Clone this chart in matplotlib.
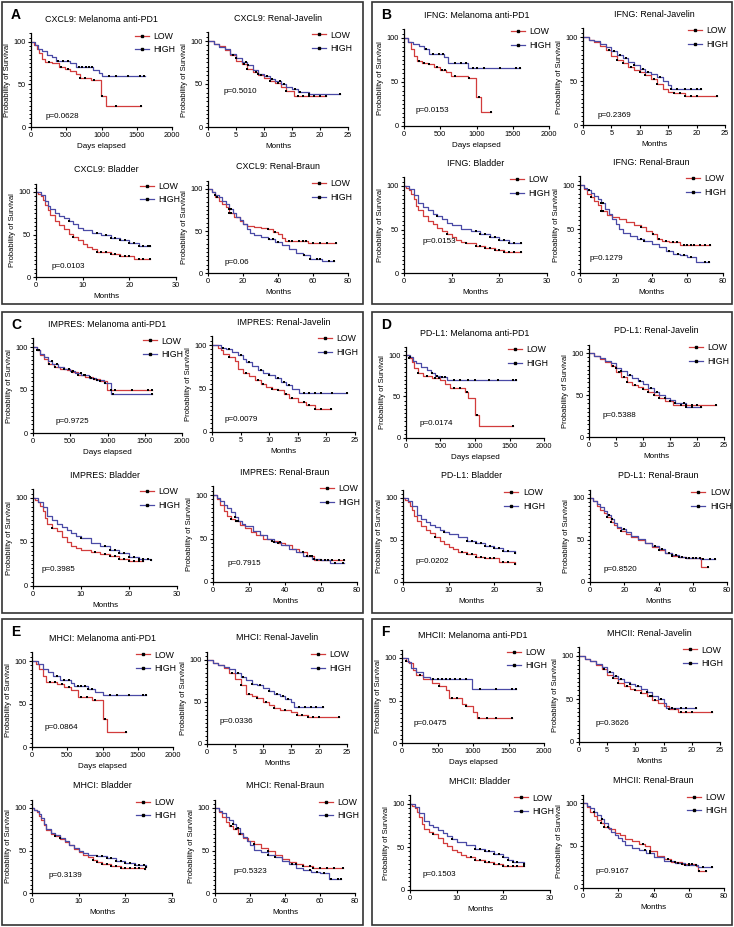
"""
Kaplan-Meier survival grid: six genes (A-F) x four cohorts.
LOW vs HIGH expression groups, censored patients shown as black ticks.
"""

import numpy as np
import matplotlib
matplotlib.use("Agg")
import matplotlib.pyplot as plt
from matplotlib.lines import Line2D
from matplotlib.patches import Rectangle
from matplotlib.ticker import MultipleLocator

plt.rcParams["font.family"] = ["Liberation Sans", "DejaVu Sans"]

# ----------------------------- DATA -----------------------------
GENES = ["CXCL9", "IFNG", "IMPRES", "PD-L1", "MHCI", "MHCII"]
KEYS = ["CXCL9", "IFNG", "IMPRES", "PDL1", "MHCI", "MHCII"]
LETTERS = ["A", "B", "C", "D", "E", "F"]
COHORTS = ["Melanoma anti-PD1", "Renal-Javelin", "Bladder", "Renal-Braun"]
COHORT_KEYS = ["MEL", "JAV", "BLA", "BRA"]
X_LABELS = ["Days elapsed", "Months", "Months", "Months"]
X_TICKS = [[0, 500, 1000, 1500, 2000], [0, 5, 10, 15, 20, 25],
           [0, 10, 20, 30], [0, 20, 40, 60, 80]]
P_VALUES = [
    ["p=0.0628", "p=0.5010", "p=0.0103", "p=0.06"],
    ["p=0.0153", "p=0.2369", "p=0.0153", "p=0.1279"],
    ["p=0.9725", "p=0.0079", "p=0.3985", "p=0.7915"],
    ["p=0.0174", "p=0.5388", "p=0.0202", "p=0.8520"],
    ["p=0.0864", "p=0.0336", "p=0.3139", "p=0.5323"],
    ["p=0.0475", "p=0.3626", "p=0.1503", "p=0.9167"],
]

# --- A: CXCL9
CXCL9_MEL_LOW_T = [0, 40, 80, 120, 160, 200, 300, 400, 480, 560, 640, 700, 850, 990, 1060, 1560]
CXCL9_MEL_LOW_S = [100, 97, 92, 87, 80, 77, 75, 71, 68, 66, 62, 58, 55, 37, 25, 25]
CXCL9_MEL_LOW_C = [250, 420, 520, 700, 770, 900, 1000, 1200, 1560]
CXCL9_MEL_HIGH_T = [0, 50, 100, 150, 220, 300, 350, 560, 640, 880, 960, 1000, 1620]
CXCL9_MEL_HIGH_S = [100, 96, 92, 89, 85, 82, 78, 75, 71, 67, 64, 60, 60]
CXCL9_MEL_HIGH_C = [380, 450, 520, 680, 720, 780, 820, 870, 1100, 1200, 1380, 1550, 1600]

CXCL9_JAV_LOW_T = [0, 1, 2, 3, 4, 5, 6, 7, 8, 9, 10, 11, 12, 13, 14, 15.3, 21]
CXCL9_JAV_LOW_S = [100, 97, 94, 90, 84, 77, 73, 68, 64, 61, 57, 54, 51, 46, 42, 36, 36]
CXCL9_JAV_LOW_C = [4.5, 6.5, 7, 8.5, 9.5, 11, 12.5, 14, 16, 17, 18, 19, 20, 21]
CXCL9_JAV_HIGH_T = [0, 1, 2, 3, 4, 5, 6, 7, 8, 9, 10, 11, 12, 13, 14, 15, 16, 18, 23.6]
CXCL9_JAV_HIGH_S = [100, 97, 93, 91, 85, 80, 76, 72, 66, 62, 59, 56, 54, 50, 47, 44, 41, 38, 38]
CXCL9_JAV_HIGH_C = [5, 6.8, 7.2, 9, 10.5, 11.5, 12.8, 13.5, 15.5, 16.5, 18, 23.6]

CXCL9_BLA_LOW_T = [0, 0.5, 1, 1.5, 2, 2.5, 3, 4, 5, 6, 7, 8, 9, 10, 11, 12, 13, 14, 16, 18, 21, 24.5]
CXCL9_BLA_LOW_S = [100, 98, 95, 91, 85, 79, 73, 66, 61, 56, 51, 47, 43, 39, 35, 33, 30, 29, 27, 25, 21, 21]
CXCL9_BLA_LOW_C = [8, 13, 14, 15, 16, 17, 18, 19, 20, 22, 23, 24.5]
CXCL9_BLA_HIGH_T = [0, 1, 2, 2.5, 3, 4, 5, 6, 7, 8, 9, 10, 12, 14, 16, 18, 20, 22, 24.5]
CXCL9_BLA_HIGH_S = [100, 96, 90, 84, 80, 75, 72, 69, 66, 62, 58, 55, 52, 49, 46, 43, 40, 37, 37]
CXCL9_BLA_HIGH_C = [7, 13, 15, 16, 17, 18, 19, 20, 21, 22, 23, 24, 24.5]

CXCL9_BRA_LOW_T = [0, 2, 4, 6, 8, 10, 12, 15, 18, 20, 22, 26, 30, 34, 37, 40, 42, 44, 57, 73]
CXCL9_BRA_LOW_S = [100, 96, 90, 86, 82, 78, 72, 67, 62, 58, 56, 55, 54, 52, 49, 46, 42, 38, 36, 36]
CXCL9_BRA_LOW_C = [5, 12, 13, 34, 38, 46, 48, 52, 54, 56, 60, 64, 68, 73]
CXCL9_BRA_HIGH_T = [0, 2, 4, 6, 8, 10, 12, 14, 16, 18, 20, 22, 24, 26, 30, 34, 38, 42, 46, 50, 54, 58, 65, 72]
CXCL9_BRA_HIGH_S = [100, 97, 93, 90, 86, 82, 76, 71, 67, 63, 58, 52, 48, 45, 43, 40, 37, 33, 28, 24, 21, 17, 14, 14]
CXCL9_BRA_HIGH_C = [4, 12, 13, 35, 37, 40, 55, 58, 62, 64, 69, 72]

# --- B: IFNG
IFNG_MEL_LOW_T = [0, 50, 100, 140, 180, 250, 330, 420, 500, 580, 650, 880, 990, 1060, 1200]
IFNG_MEL_LOW_S = [100, 95, 88, 80, 74, 72, 70, 67, 64, 61, 57, 54, 33, 16, 16]
IFNG_MEL_LOW_C = [200, 280, 350, 450, 520, 560, 700, 900, 1040, 1200]
IFNG_MEL_HIGH_T = [0, 60, 120, 200, 280, 340, 550, 600, 880, 1600]
IFNG_MEL_HIGH_S = [100, 96, 93, 91, 87, 82, 78, 72, 66, 66]
IFNG_MEL_HIGH_C = [300, 400, 480, 540, 700, 780, 850, 950, 1000, 1100, 1330, 1550, 1600]

IFNG_JAV_LOW_T = [0, 1, 2, 3, 4, 5, 6, 7, 8, 9, 10, 11, 12, 13, 14, 15, 16, 18, 23.6]
IFNG_JAV_LOW_S = [100, 97, 94, 90, 85, 78, 74, 70, 66, 63, 60, 57, 52, 47, 41, 38, 36, 33, 33]
IFNG_JAV_LOW_C = [4.5, 6, 7, 8.5, 10, 11, 12.5, 13, 16, 17, 18, 19, 20, 23.6]
IFNG_JAV_HIGH_T = [0, 1, 2, 3, 4, 5, 6, 7, 8, 9, 10, 11, 12, 13, 14, 15, 15.5, 20.8]
IFNG_JAV_HIGH_S = [100, 97, 95, 92, 89, 84, 80, 76, 72, 68, 64, 60, 58, 55, 50, 46, 41, 41]
IFNG_JAV_HIGH_C = [5.5, 6.5, 7.5, 9, 10.5, 11.5, 13.5, 15.5, 16.5, 18, 19, 20, 20.8]

IFNG_BLA_LOW_T = [0, 0.5, 1, 1.5, 2, 2.5, 3, 4, 5, 6, 7, 8, 9, 10, 11, 12, 13, 15, 17, 19, 21, 24.5]
IFNG_BLA_LOW_S = [100, 98, 95, 91, 85, 77, 72, 66, 60, 56, 52, 48, 45, 41, 38, 36, 34, 31, 29, 27, 24, 24]
IFNG_BLA_LOW_C = [9, 13, 15, 16, 17, 18, 19, 20, 21, 22, 23, 24.5]
IFNG_BLA_HIGH_T = [0, 1, 2, 3, 4, 5, 6, 7, 8, 9, 10, 12, 14, 16, 18, 20, 22, 24.5]
IFNG_BLA_HIGH_S = [100, 96, 90, 81, 76, 72, 68, 65, 62, 57, 55, 51, 48, 45, 41, 38, 35, 35]
IFNG_BLA_HIGH_C = [7, 15, 16, 17, 18, 19, 20, 21, 22, 23, 24.5]

IFNG_BRA_LOW_T = [0, 2, 4, 6, 8, 10, 12, 15, 18, 22, 26, 30, 34, 37, 40, 43, 46, 50, 56, 73]
IFNG_BRA_LOW_S = [100, 96, 90, 86, 82, 77, 71, 66, 64, 61, 58, 55, 52, 48, 44, 39, 36, 35, 32, 32]
IFNG_BRA_LOW_C = [6, 12, 13, 34, 41, 44, 48, 52, 54, 58, 60, 62, 64, 67, 70, 73]
IFNG_BRA_HIGH_T = [0, 2, 4, 6, 8, 10, 12, 14, 16, 18, 20, 22, 24, 28, 32, 36, 40, 44, 48, 52, 56, 60, 65, 72]
IFNG_BRA_HIGH_S = [100, 97, 94, 91, 88, 84, 79, 73, 67, 61, 56, 50, 45, 42, 39, 36, 33, 29, 25, 22, 20, 18, 13, 13]
IFNG_BRA_HIGH_C = [5, 12, 13, 34, 36, 50, 55, 58, 62, 70, 72]

# --- C: IMPRES
IMPRES_MEL_LOW_T = [0, 60, 100, 150, 200, 280, 360, 450, 520, 600, 700, 800, 900, 990, 1600]
IMPRES_MEL_LOW_S = [100, 96, 91, 86, 80, 77, 75, 73, 71, 68, 65, 63, 61, 50, 50]
IMPRES_MEL_LOW_C = [60, 220, 300, 420, 520, 600, 680, 760, 820, 900, 1050, 1100, 1330, 1550, 1600]
IMPRES_MEL_HIGH_T = [0, 50, 100, 150, 200, 260, 340, 420, 500, 560, 650, 750, 850, 950, 1050, 1600]
IMPRES_MEL_HIGH_S = [100, 96, 92, 88, 84, 80, 77, 75, 72, 70, 67, 64, 62, 58, 45, 45]
IMPRES_MEL_HIGH_C = [80, 250, 320, 480, 540, 640, 700, 780, 860, 960, 1070, 1600]

IMPRES_JAV_LOW_T = [0, 1, 1.5, 2, 3, 4, 4.5, 5.5, 6.5, 7.5, 8.5, 9.5, 10.5, 11.5, 12.5, 13.5, 15, 16.5, 18, 20.8]
IMPRES_JAV_LOW_S = [100, 97, 94, 90, 86, 82, 72, 68, 64, 60, 55, 52, 50, 48, 44, 39, 35, 31, 27, 27]
IMPRES_JAV_LOW_C = [3, 6, 8, 9, 10.5, 11.5, 13, 14, 16, 17, 18, 19, 20.8]
IMPRES_JAV_HIGH_T = [0, 1.5, 2.5, 3.5, 4.5, 5.5, 6, 7, 8, 9, 10, 11, 12, 13, 14, 15.2, 23.6]
IMPRES_JAV_HIGH_S = [100, 97, 95, 92, 88, 84, 80, 76, 71, 68, 66, 62, 58, 54, 50, 45, 45]
IMPRES_JAV_HIGH_C = [2, 3, 5, 6.5, 8.5, 10, 11.5, 12.5, 13.5, 16, 17, 18, 19, 21, 23.6]

IMPRES_BLA_LOW_T = [0, 0.5, 1, 1.5, 2, 2.5, 3, 4, 5, 6, 7, 8, 9, 10, 12, 14, 16, 18, 20, 23]
IMPRES_BLA_LOW_S = [100, 98, 95, 91, 85, 77, 71, 66, 62, 56, 50, 46, 43, 41, 39, 36, 34, 31, 28, 28]
IMPRES_BLA_LOW_C = [4, 13, 15, 16, 17, 18, 19, 20, 21, 22, 23]
IMPRES_BLA_HIGH_T = [0, 1, 2, 3, 4, 5, 6, 7, 8, 9, 10, 12, 14, 16, 18, 20, 22, 24.5]
IMPRES_BLA_HIGH_S = [100, 96, 90, 80, 75, 71, 67, 64, 60, 57, 54, 49, 45, 41, 37, 33, 31, 30]
IMPRES_BLA_HIGH_C = [10, 15, 16, 17, 18, 19, 20, 21, 22, 23, 24, 24.5]

IMPRES_BRA_LOW_T = [0, 2, 4, 6, 8, 10, 12, 15, 18, 21, 24, 28, 32, 36, 40, 44, 48, 52, 56, 73]
IMPRES_BRA_LOW_S = [100, 95, 88, 82, 76, 72, 70, 66, 62, 58, 54, 50, 47, 45, 42, 38, 34, 30, 25, 25]
IMPRES_BRA_LOW_C = [10, 13, 33, 36, 50, 52, 55, 58, 60, 62, 66, 70, 73]
IMPRES_BRA_HIGH_T = [0, 2, 4, 6, 8, 10, 12, 14, 16, 18, 22, 26, 30, 34, 38, 42, 46, 50, 55, 60, 65, 73]
IMPRES_BRA_HIGH_S = [100, 97, 93, 89, 85, 80, 75, 70, 67, 64, 59, 54, 50, 46, 42, 38, 34, 30, 27, 25, 22, 22]
IMPRES_BRA_HIGH_C = [12, 14, 34, 37, 52, 54, 56, 60, 64, 68, 72]

# --- D: PD-L1
PDL1_MEL_LOW_T = [0, 40, 80, 120, 180, 250, 380, 500, 560, 640, 850, 900, 1000, 1060, 1550]
PDL1_MEL_LOW_S = [100, 96, 91, 84, 78, 75, 72, 70, 65, 60, 56, 48, 28, 14, 14]
PDL1_MEL_LOW_C = [50, 180, 300, 420, 480, 700, 780, 880, 1030, 1550]
PDL1_MEL_HIGH_T = [0, 60, 100, 150, 220, 300, 360, 420, 500, 600, 1600]
PDL1_MEL_HIGH_S = [100, 97, 93, 90, 86, 82, 78, 75, 73, 70, 70]
PDL1_MEL_HIGH_C = [60, 380, 450, 520, 560, 700, 780, 900, 1000, 1200, 1330, 1550, 1600]

PDL1_JAV_LOW_T = [0, 1, 2, 3, 4, 5, 6, 7, 8, 9, 10, 11, 12, 13, 14, 15.5, 23.6]
PDL1_JAV_LOW_S = [100, 97, 93, 89, 84, 77, 72, 66, 62, 60, 57, 53, 50, 46, 43, 38, 38]
PDL1_JAV_LOW_C = [4.5, 5.5, 6.5, 7, 8.5, 10, 11, 12, 13, 15, 17, 18, 19, 20, 23.6]
PDL1_JAV_HIGH_T = [0, 1, 2, 3, 4, 5, 6, 7, 8, 9, 10, 11, 12, 13, 14, 15, 16, 18, 20.8]
PDL1_JAV_HIGH_S = [100, 97, 94, 91, 88, 82, 78, 74, 70, 67, 63, 58, 53, 50, 47, 44, 40, 36, 36]
PDL1_JAV_HIGH_C = [5, 6, 7.5, 9.5, 11.5, 12.5, 14, 16, 17.5, 18, 19, 20.8]

PDL1_BLA_LOW_T = [0, 0.5, 1, 1.5, 2, 2.5, 3, 4, 5, 6, 7, 8, 9, 10, 11, 12, 14, 16, 18, 21, 24.5]
PDL1_BLA_LOW_S = [100, 98, 95, 91, 86, 79, 73, 67, 62, 58, 53, 49, 45, 42, 39, 36, 33, 30, 28, 24, 22]
PDL1_BLA_LOW_C = [7, 13, 14, 15, 16, 17, 18, 19, 20, 22, 23, 24.5]
PDL1_BLA_HIGH_T = [0, 1, 2, 3, 4, 5, 6, 7, 8, 9, 10, 12, 14, 16, 18, 20, 22, 24.5]
PDL1_BLA_HIGH_S = [100, 96, 90, 80, 75, 71, 68, 65, 62, 59, 57, 53, 49, 46, 43, 40, 37, 35]
PDL1_BLA_HIGH_C = [9, 14, 15, 16, 17, 18, 19, 20, 21, 22, 23, 24.5]

PDL1_BRA_LOW_T = [0, 2, 4, 6, 8, 10, 12, 14, 16, 18, 21, 24, 28, 32, 36, 40, 44, 48, 52, 56, 65, 69]
PDL1_BRA_LOW_S = [100, 96, 91, 86, 82, 77, 72, 68, 64, 61, 57, 54, 50, 46, 42, 38, 34, 31, 30, 28, 18, 18]
PDL1_BRA_LOW_C = [10, 12, 18, 40, 46, 48, 52, 56, 60, 62, 64, 69]
PDL1_BRA_HIGH_T = [0, 2, 4, 6, 8, 10, 12, 14, 16, 18, 21, 24, 28, 32, 36, 40, 44, 48, 52, 56, 64, 73]
PDL1_BRA_HIGH_S = [100, 97, 93, 89, 85, 80, 75, 70, 66, 63, 59, 55, 51, 47, 43, 39, 35, 32, 30, 29, 27, 27]
PDL1_BRA_HIGH_C = [11, 13, 20, 38, 42, 48, 50, 54, 58, 66, 70, 73]

# --- E: MHCI
MHCI_MEL_LOW_T = [0, 50, 100, 150, 200, 350, 450, 550, 650, 850, 1000, 1060, 1330]
MHCI_MEL_LOW_S = [100, 96, 91, 82, 76, 73, 70, 66, 58, 55, 33, 17, 17]
MHCI_MEL_LOW_C = [250, 330, 420, 520, 700, 780, 900, 1040, 1330]
MHCI_MEL_HIGH_T = [0, 80, 150, 220, 300, 400, 550, 600, 800, 900, 1000, 1620]
MHCI_MEL_HIGH_S = [100, 96, 91, 87, 83, 78, 75, 71, 68, 64, 60, 60]
MHCI_MEL_HIGH_C = [350, 450, 520, 650, 700, 750, 800, 850, 1100, 1200, 1380, 1580, 1620]

MHCI_JAV_LOW_T = [0, 1, 2, 3, 4, 5, 6, 7, 8, 9, 10, 11, 12, 13, 15, 16, 18, 23.6]
MHCI_JAV_LOW_S = [100, 97, 94, 90, 84, 77, 70, 60, 57, 55, 50, 47, 43, 40, 38, 34, 32, 32]
MHCI_JAV_LOW_C = [4.5, 6, 7.5, 9, 10.5, 12, 14, 16, 17, 18, 19, 20, 23.6]
MHCI_JAV_HIGH_T = [0, 1, 2, 3, 4, 5, 6, 7, 8, 9, 10, 11, 12, 13, 14, 15, 15.5, 20.8]
MHCI_JAV_HIGH_S = [100, 97, 94, 92, 89, 84, 80, 76, 72, 70, 67, 63, 60, 57, 54, 50, 44, 44]
MHCI_JAV_HIGH_C = [5.5, 6.5, 8, 9.5, 11, 12.5, 13.5, 14.5, 16.5, 17.5, 18.5, 19.5, 20.8]

MHCI_BLA_LOW_T = [0, 0.5, 1, 1.5, 2, 2.5, 3, 4, 5, 6, 7, 8, 9, 10, 11, 12, 13, 14, 15, 17, 19, 24.2]
MHCI_BLA_LOW_S = [100, 98, 95, 91, 86, 80, 74, 70, 67, 64, 60, 56, 52, 48, 45, 42, 39, 37, 34, 32, 29, 28]
MHCI_BLA_LOW_C = [5, 13, 14, 15, 16, 17, 18, 19, 20, 21, 22, 23, 24.2]
MHCI_BLA_HIGH_T = [0, 0.5, 1, 1.5, 2, 2.5, 3, 4, 5, 6, 7, 8, 9, 10, 11, 12, 14, 16, 18, 20, 22, 24.5]
MHCI_BLA_HIGH_S = [100, 98, 96, 93, 88, 81, 75, 71, 68, 65, 61, 57, 53, 50, 47, 45, 43, 41, 38, 35, 33, 31]
MHCI_BLA_HIGH_C = [6, 14, 15, 16, 17, 18, 19, 20, 21, 22, 23, 24, 24.5]

MHCI_BRA_LOW_T = [0, 2, 4, 6, 8, 10, 13, 16, 19, 22, 26, 30, 34, 38, 42, 46, 50, 56, 73]
MHCI_BRA_LOW_S = [100, 95, 89, 84, 79, 75, 70, 65, 61, 58, 53, 49, 45, 40, 36, 34, 32, 30, 30]
MHCI_BRA_LOW_C = [9, 12, 14, 22, 30, 46, 50, 54, 56, 60, 64, 68, 73]
MHCI_BRA_HIGH_T = [0, 2, 4, 6, 8, 10, 12, 14, 16, 18, 20, 22, 26, 30, 34, 38, 42, 46, 50, 55, 60, 65, 72]
MHCI_BRA_HIGH_S = [100, 97, 94, 90, 86, 81, 76, 71, 66, 61, 57, 51, 48, 45, 42, 38, 34, 30, 27, 25, 23, 17, 17]
MHCI_BRA_HIGH_C = [10, 13, 30, 34, 44, 54, 58, 62, 66, 70, 72]

# --- F: MHCII
MHCII_MEL_LOW_T = [0, 60, 100, 150, 200, 300, 420, 520, 620, 660, 850, 900, 1000, 1060, 1550]
MHCII_MEL_LOW_S = [100, 97, 94, 86, 80, 75, 71, 67, 62, 53, 46, 44, 37, 29, 29]
MHCII_MEL_LOW_C = [60, 250, 520, 700, 780, 900, 1080, 1200, 1330, 1550]
MHCII_MEL_HIGH_T = [0, 80, 120, 200, 300, 400, 980, 1600]
MHCII_MEL_HIGH_S = [100, 95, 88, 84, 78, 75, 64, 64]
MHCII_MEL_HIGH_C = [430, 500, 560, 620, 680, 750, 820, 900, 1100, 1330, 1550, 1600]

MHCII_JAV_LOW_T = [0, 1, 2, 3, 4, 5, 6, 7, 8, 9, 10, 11, 12, 13, 14, 15, 16, 17.5, 23.6]
MHCII_JAV_LOW_S = [100, 97, 94, 90, 85, 78, 74, 69, 65, 62, 60, 57, 53, 49, 45, 42, 38, 35, 35]
MHCII_JAV_LOW_C = [4.5, 6, 7, 8.5, 10, 11, 12.5, 13.5, 16, 17, 18, 19, 20, 23.6]
MHCII_JAV_HIGH_T = [0, 1, 2, 3, 4, 5, 6, 7, 8, 9, 10, 11, 12, 13, 14, 15, 15.5, 20.8]
MHCII_JAV_HIGH_S = [100, 97, 94, 91, 87, 81, 77, 73, 70, 67, 65, 62, 58, 54, 50, 45, 40, 40]
MHCII_JAV_HIGH_C = [5.5, 6.5, 7.5, 9, 10.5, 12, 13, 14.5, 16.5, 18, 19, 20.8]

MHCII_BLA_LOW_T = [0, 0.5, 1, 1.5, 2, 2.5, 3, 4, 5, 6, 7, 8, 9, 10, 11, 12, 14, 16, 18, 20, 24.5]
MHCII_BLA_LOW_S = [100, 98, 95, 91, 85, 77, 71, 67, 65, 60, 55, 51, 47, 44, 41, 38, 35, 33, 30, 28, 28]
MHCII_BLA_LOW_C = [5, 13, 14, 15, 16, 17, 18, 19, 20, 21, 22, 23, 24.5]
MHCII_BLA_HIGH_T = [0, 1, 2, 3, 4, 5, 6, 7, 8, 9, 10, 12, 14, 16, 18, 20, 21, 22, 24.5]
MHCII_BLA_HIGH_S = [100, 96, 90, 80, 76, 73, 70, 66, 63, 59, 56, 52, 48, 45, 42, 38, 35, 32, 30]
MHCII_BLA_HIGH_C = [9, 14, 15, 16, 17, 18, 19, 20, 21, 22, 23, 24.5]

MHCII_BRA_LOW_T = [0, 2, 4, 6, 8, 10, 12, 15, 18, 21, 24, 28, 32, 35, 38, 42, 46, 50, 56, 64, 65, 70]
MHCII_BRA_LOW_S = [100, 95, 90, 85, 80, 76, 72, 69, 65, 62, 58, 55, 52, 49, 44, 38, 34, 31, 28, 26, 20, 20]
MHCII_BRA_LOW_C = [10, 12, 14, 34, 38, 48, 52, 56, 60, 62, 66, 70]
MHCII_BRA_HIGH_T = [0, 2, 4, 6, 8, 10, 12, 14, 16, 18, 20, 22, 24, 28, 32, 36, 40, 46, 52, 58, 65, 73]
MHCII_BRA_HIGH_S = [100, 97, 94, 90, 86, 81, 76, 71, 66, 62, 59, 55, 51, 47, 45, 41, 36, 32, 29, 27, 25, 25]
MHCII_BRA_HIGH_C = [6, 11, 35, 38, 50, 54, 58, 60, 64, 68, 73]

# ----------------------------- LAYOUT -----------------------------
W, H = 734, 927
RED = "#d23c3c"
BLUE = "#4a4aa6"

# axes boxes in pixels: (x at 0, x at last tick, y at 0, y at 100)
AX_PX = [
    [(31, 172, 127, 42), (208, 348, 127, 41), (36, 176, 277, 192), (208, 348, 273, 189)],
    [(404, 549, 126, 38), (583, 725, 125, 37), (404, 547, 273, 186), (580, 723, 273, 185)],
    [(33, 182, 433, 347), (212, 355, 432, 345), (33, 177, 586, 498), (213, 357, 582, 495)],
    [(406, 544, 438, 355), (589, 724, 437, 353), (403, 540, 582, 498), (590, 727, 582, 498)],
    [(32, 173, 747, 661), (207, 347, 744, 660), (32, 172, 893, 808), (215, 355, 893, 808)],
    [(402, 544, 743, 658), (579, 720, 742, 656), (410, 550, 890, 804), (583, 724, 888, 803)],
]
# p-value text anchor (axes fraction x, data y)
P_POS = [
    [(0.10, 12), (0.11, 41), (0.11, 12), (0.12, 13)],
    [(0.08, 18), (0.10, 11), (0.13, 36), (0.07, 17)],
    [(0.15, 13), (0.09, 14), (0.06, 19), (0.10, 21)],
    [(0.10, 18), (0.10, 26), (0.09, 24), (0.10, 15)],
    [(0.09, 23), (0.09, 27), (0.12, 21), (0.13, 25)],
    [(0.08, 23), (0.12, 22), (0.09, 18), (0.09, 19)],
]
# panel frames in pixels: (left, top, right, bottom)
FRAMES = [(2, 2, 363, 304), (372, 2, 732, 304),
          (2, 312, 363, 613), (372, 312, 732, 613),
          (2, 619, 363, 925), (372, 619, 732, 925)]


def step_value(t, s, x):
    """Survival value of the step curve at time x."""
    i = np.searchsorted(t, x, side="right") - 1
    return np.asarray(s)[i]


def km_axes(fig, box, gi, ci):
    x0, x1, y0, y100 = box
    ytop = y0 - 1.1 * (y0 - y100)
    ax = fig.add_axes([x0 / W, 1 - y0 / H, (x1 - x0) / W, (y0 - ytop) / H])
    key = KEYS[gi] + "_" + COHORT_KEYS[ci]
    for grp, col in (("LOW", RED), ("HIGH", BLUE)):
        t = np.array(globals()[f"{key}_{grp}_T"], dtype=float)
        s = np.array(globals()[f"{key}_{grp}_S"], dtype=float)
        c = np.array(globals()[f"{key}_{grp}_C"], dtype=float)
        ax.step(t, s, where="post", color=col, lw=0.9, zorder=2)
        ax.plot(c, step_value(t, s, c), ls="none", marker="s", ms=1.8,
                color="k", mew=0, zorder=3)

    xt = X_TICKS[ci]
    ax.set_xlim(0, xt[-1])
    ax.set_ylim(0, 110)
    ax.set_xticks(xt)
    ax.set_yticks([0, 50, 100])
    ax.yaxis.set_minor_locator(MultipleLocator(5))
    ax.tick_params(labelsize=5.3, length=2.5, width=0.8, pad=1.2)
    ax.tick_params(which="minor", length=1.6, width=0.7)
    for sp in ("top", "right"):
        ax.spines[sp].set_visible(False)
    for sp in ("left", "bottom"):
        ax.spines[sp].set_linewidth(0.9)
    ax.patch.set_alpha(0)

    ax.set_title(f"{GENES[gi]}: {COHORTS[ci]}", fontsize=6.4, pad=8)
    ax.set_xlabel(X_LABELS[ci], fontsize=5.8, labelpad=3)
    ax.set_ylabel("Probability of Survival", fontsize=5.5, labelpad=2)

    px, py = P_POS[gi][ci]
    ax.text(px, py, P_VALUES[gi][ci], transform=ax.get_yaxis_transform(),
            fontsize=5.8, ha="left", va="center")

    handles = [Line2D([0], [0], color=col, lw=0.9, marker="s", ms=1.8,
                      mfc="k", mec="k") for col in (RED, BLUE)]
    ax.legend(handles, ["LOW", "HIGH"], loc="upper left",
              bbox_to_anchor=(0.74, 1.02), frameon=False, fontsize=6.3,
              handlelength=1.6, handletextpad=0.5, labelspacing=0.55,
              borderaxespad=0, borderpad=0)
    return ax


def main():
    fig = plt.figure(figsize=(W / 100, H / 100), dpi=100)

    for gi in range(len(GENES)):
        l, t, r, b = FRAMES[gi]
        fig.add_artist(Rectangle((l / W, 1 - b / H), (r - l) / W, (b - t) / H,
                                 transform=fig.transFigure, fill=False,
                                 ec="#333333", lw=1.2))
        fig.text((l + 9) / W, 1 - (t + 13) / H, LETTERS[gi], fontsize=10,
                 fontweight="bold", ha="left", va="center")
        for ci in range(len(COHORTS)):
            km_axes(fig, AX_PX[gi][ci], gi, ci)

    fig.savefig("out.png", dpi=100)
    plt.close(fig)


if __name__ == "__main__":
    main()
